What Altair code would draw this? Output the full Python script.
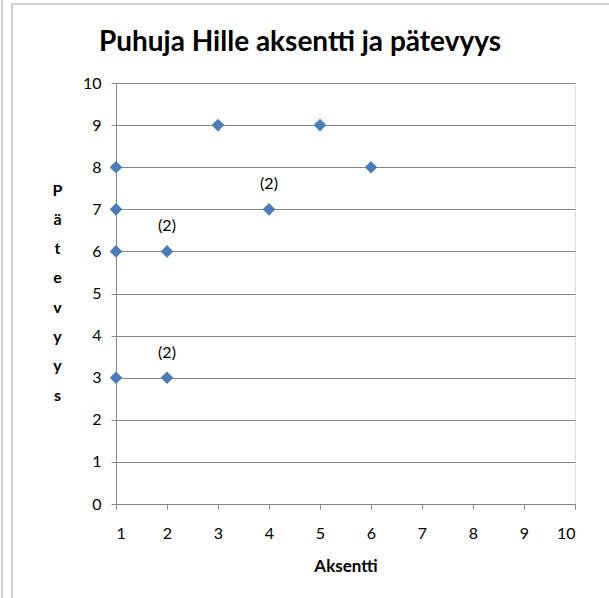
import altair as alt
import pandas as pd

# Data
aksentti = [1, 1, 1, 1, 2, 2, 3, 4, 5, 6]
patevyys = [8, 7, 6, 3, 6, 3, 9, 7, 9, 8]
count_labels = ["", "", "", "", "(2)", "(2)", "", "(2)", "", ""]

x_ticks = [1, 2, 3, 4, 5, 6, 7, 8, 9, 10]
y_ticks = [0, 1, 2, 3, 4, 5, 6, 7, 8, 9, 10]
chart_title = "Puhuja Hille aksentti ja pätevyys"

df = pd.DataFrame({"Aksentti": aksentti, "Pätevyys": patevyys, "label": count_labels})

FONT = "Lato"
W, H = 459, 421
LEFT, TOP = 116, 83

x_enc = alt.X("Aksentti:Q",
              scale=alt.Scale(domain=[1, 10], nice=False, zero=False),
              axis=alt.Axis(values=x_ticks, title="Aksentti", grid=False,
                            tickSize=5, tickColor="#868686", domainColor="#868686",
                            labelPadding=16, labelFontSize=16, labelColor="#000000",
                            labelFont=FONT, titleFont=FONT, titleFontSize=17,
                            titleFontWeight="bold", titleColor="#000000", titlePadding=17,
                            format="d"))
y_enc = alt.Y("Pätevyys:Q",
              scale=alt.Scale(domain=[0, 10], nice=False),
              axis=alt.Axis(values=y_ticks, title=list("Pätevyys"), grid=True,
                            gridColor="#868686", gridWidth=1,
                            tickSize=5, tickColor="#868686", domainColor="#868686",
                            labelPadding=10, labelFontSize=16, labelColor="#000000",
                            labelFont=FONT, titleFont=FONT, titleFontSize=16,
                            titleFontWeight="bold", titleColor="#000000",
                            titleAngle=0, titleAlign="center", titleBaseline="top",
                            titleLineHeight=29.3, titleX=-59, titleY=99,
                            format="d"))

points = alt.Chart(df).mark_point(shape="diamond", filled=True, size=160,
                                  color="#4A7EBB", opacity=1).encode(x=x_enc, y=y_enc)

labels = alt.Chart(df).mark_text(dy=-25, fontSize=16, font=FONT, color="#000000").encode(
    x="Aksentti:Q", y="Pätevyys:Q", text="label:N")

frame = pd.DataFrame({"k": [0]})
title_df = pd.DataFrame({"t": [chart_title]})
title_mark = alt.Chart(title_df).mark_text(
    font=FONT, fontSize=28, fontWeight="bold", color="#000000",
    align="center", baseline="alphabetic").encode(
    x=alt.value(300 - LEFT), y=alt.value(51 - TOP), text="t:N")

border1 = alt.Chart(frame).mark_rule(color="#a0a0a0", strokeWidth=1).encode(
    x=alt.value(-114), y=alt.value(-TOP), y2=alt.value(598 - TOP))
border2 = alt.Chart(frame).mark_rule(color="#a0a0a0", strokeWidth=1).encode(
    x=alt.value(-104), y=alt.value(-TOP + 4), y2=alt.value(598 - TOP))
border3 = alt.Chart(frame).mark_rule(color="#a0a0a0", strokeWidth=1).encode(
    x=alt.value(-104), x2=alt.value(609 - LEFT), y=alt.value(-TOP + 4))

chart = alt.layer(border1, border2, border3, points, labels, title_mark).properties(
    width=W, height=H,
    autosize=alt.AutoSizeParams(type="none"),
    padding={"left": LEFT, "top": TOP, "right": 609 - LEFT - W, "bottom": 598 - TOP - H},
).configure_view(stroke=None, clip=False).configure(background="#ffffff")

chart.save("out.html", embed_options={"renderer": "svg", "actions": False})
